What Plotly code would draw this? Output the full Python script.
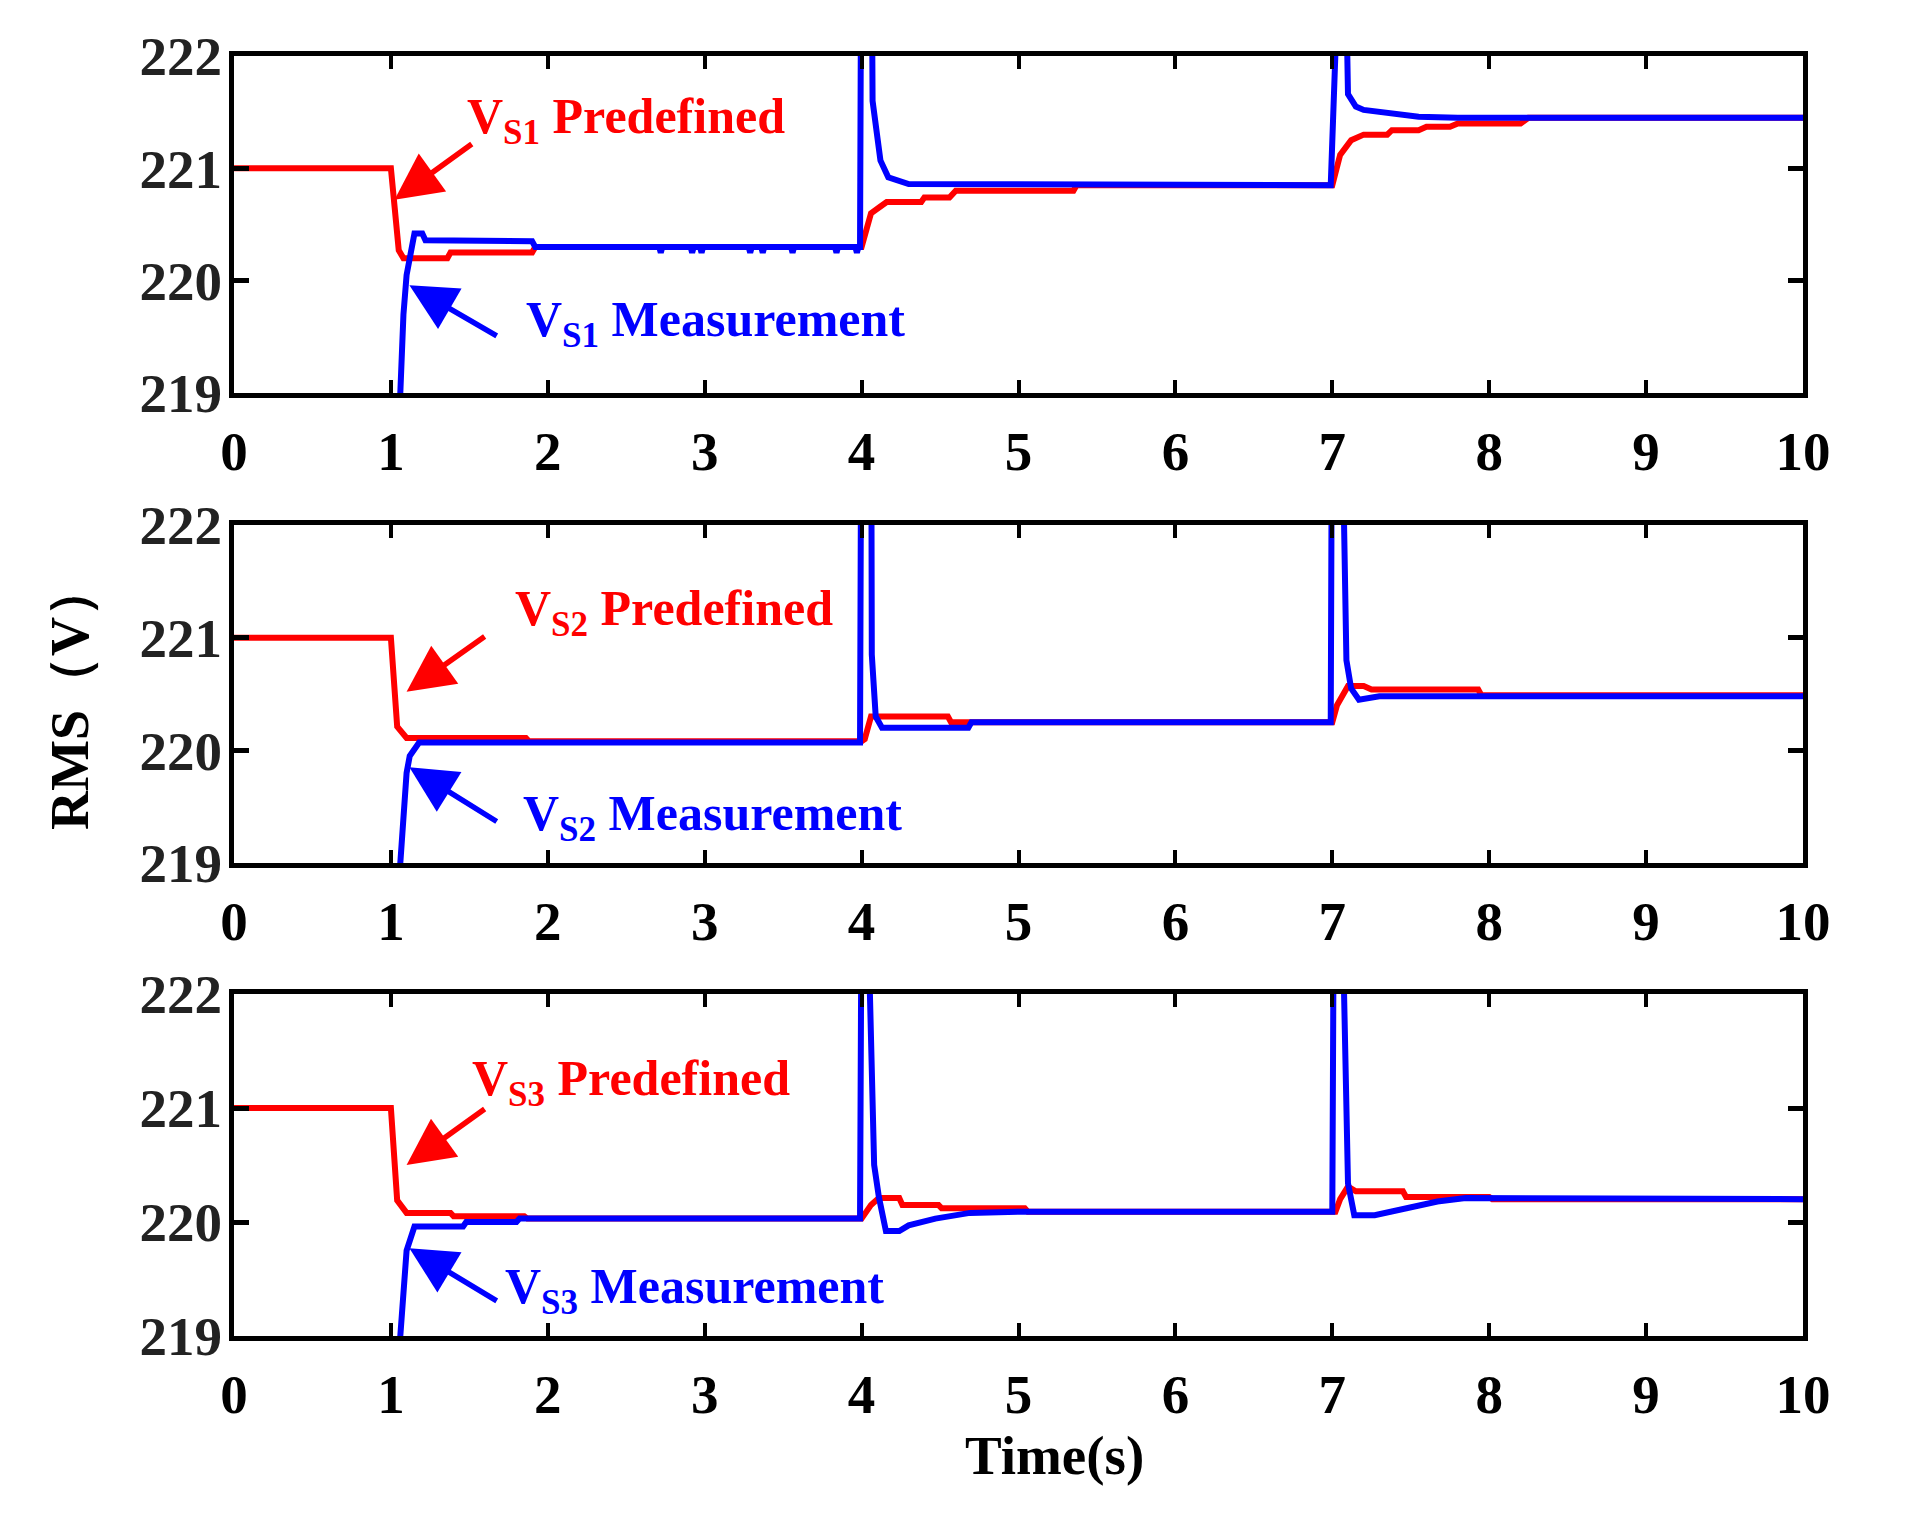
import plotly.graph_objects as go

# ---------------- data ----------------
x_ticks = [0, 1, 2, 3, 4, 5, 6, 7, 8, 9, 10]
y_ticks = [219, 220, 221, 222]

# Panel 1 (V_S1)
red1_t = [0, 1.0, 1.05, 1.08, 1.36, 1.38, 1.9, 1.92, 4.0, 4.02, 4.06, 4.12, 4.16, 4.38, 4.4, 4.56, 4.6,
          5.35, 5.37, 7.0, 7.02, 7.05, 7.12, 7.2, 7.35, 7.38, 7.55, 7.6, 7.75, 7.8, 8.2, 8.25, 10]
red1_v = [221, 221, 220.27, 220.2, 220.2, 220.25, 220.25, 220.3, 220.3, 220.4, 220.6, 220.66, 220.7, 220.7,
          220.74, 220.74, 220.8, 220.8, 220.85, 220.85, 220.95, 221.12, 221.25, 221.3, 221.3, 221.34, 221.34,
          221.37, 221.37, 221.4, 221.4, 221.45, 221.45]
blue1_t = [1.055, 1.06, 1.08, 1.1, 1.15, 1.2, 1.22, 1.9, 1.92,
           2.71, 2.72, 2.73, 2.91, 2.92, 2.93, 2.97, 2.98, 2.99, 3.28, 3.29, 3.30, 3.36, 3.37, 3.38,
           3.55, 3.56, 3.57, 3.83, 3.84, 3.85, 3.96, 3.97, 3.98,
           3.99, 4.0, 4.06, 4.07, 4.09, 4.12, 4.17, 4.3,
           6.99, 7.0, 7.07, 7.1, 7.15, 7.2, 7.4, 7.55, 7.8, 10]
blue1_v = [218.5, 219, 219.7, 220.05, 220.42, 220.42, 220.36, 220.35, 220.3,
           220.3, 220.25, 220.3, 220.3, 220.25, 220.3, 220.3, 220.25, 220.3, 220.3, 220.25, 220.3,
           220.3, 220.25, 220.3, 220.3, 220.25, 220.3, 220.3, 220.25, 220.3, 220.3, 220.25, 220.3,
           220.3, 224, 224, 221.6, 221.34,
           221.07, 220.92, 220.86, 220.85, 224, 224, 221.66, 221.55, 221.52, 221.49, 221.46, 221.45, 221.45]

# Panel 2 (V_S2)
red2_t = [0, 1.0, 1.04, 1.07, 1.1, 1.86, 1.88, 4.0, 4.02, 4.06, 4.55, 4.57, 7.0, 7.03, 7.1, 7.2, 7.25,
          7.93, 7.95, 10]
red2_v = [221, 221, 220.21, 220.15, 220.11, 220.11, 220.08, 220.08, 220.1, 220.3, 220.3, 220.25, 220.25,
          220.4, 220.57, 220.57, 220.54, 220.54, 220.49, 220.49]
blue2_t = [1.055, 1.06, 1.1, 1.12, 1.18, 3.99, 4.0, 4.06, 4.065, 4.09, 4.13, 4.68, 4.7, 6.99, 7.0, 7.05,
           7.09, 7.12, 7.17, 7.3, 10]
blue2_v = [218.5, 219, 219.8, 219.95, 220.07, 220.07, 224, 224, 220.85, 220.3, 220.2, 220.2, 220.25, 220.25,
           224, 224, 220.8, 220.55, 220.45, 220.48, 220.48]

# Panel 3 (V_S3)
red3_t = [0, 1.0, 1.04, 1.08, 1.1, 1.38, 1.4, 1.85, 1.87, 4.0, 4.06, 4.11, 4.24, 4.26, 4.49, 4.51, 5.04,
          5.06, 7.02, 7.05, 7.1, 7.15, 7.45, 7.47, 8.0, 8.02, 10]
red3_v = [221, 221, 220.19, 220.12, 220.08, 220.08, 220.05, 220.05, 220.03, 220.03, 220.15, 220.21, 220.21,
          220.15, 220.15, 220.12, 220.12, 220.09, 220.09, 220.2, 220.31, 220.27, 220.27, 220.22, 220.22,
          220.2, 220.2]
blue3_t = [1.055, 1.06, 1.1, 1.15, 1.46, 1.48, 1.8, 1.82, 3.99, 4.0, 4.035, 4.07, 4.08, 4.11, 4.155, 4.24,
           4.3, 4.47, 4.69, 5.0, 7.0, 7.01, 7.06, 7.1, 7.14, 7.27, 7.45, 7.67, 7.85, 10]
blue3_v = [218.5, 219, 219.75, 219.96, 219.96, 220.0, 220.0, 220.03, 220.03, 223, 223, 220.6, 220.5, 220.22,
           219.92, 219.92, 219.97, 220.03, 220.08, 220.09, 220.09, 223, 223, 220.34, 220.06, 220.06, 220.12,
           220.18, 220.21, 220.2]

panels = [(red1_t, red1_v, blue1_t, blue1_v), (red2_t, red2_v, blue2_t, blue2_v),
          (red3_t, red3_v, blue3_t, blue3_v)]

# label / arrow placements (data coordinates), per panel
pred_text = [(1.474, 221.43), (1.78, 221.23), (1.507, 221.23)]
meas_text = [(1.85, 219.62), (1.83, 219.41), (1.715, 219.4)]
pred_arrow = [((1.525, 221.226), (1.023, 220.72)), ((1.607, 221.02), (1.10, 220.52)),
              ((1.607, 221.0), (1.10, 220.5))]
meas_arrow = [((1.684, 219.5), (1.118, 219.96)), ((1.684, 219.36), (1.118, 219.85)),
              ((1.684, 219.3), (1.118, 219.77))]
names = ["S1", "S2", "S3"]

RED = "#ff0000"
BLUE = "#0000ff"
FONT = "Liberation Serif"

# page offset (body margin) compensation
OFF = 8
W, H = 1926 - 2 * OFF, 1528 - 2 * OFF
L, T = 234 - OFF, 56 - OFF
R = W - (1803 - OFF)
B = H - (1336 - OFF)
pw, ph = W - L - R, H - T - B


def ydom(top_px, bot_px):
    return [(H - (bot_px - OFF) - B) / ph, (H - (top_px - OFF) - B) / ph]


domains = [ydom(56, 393), ydom(525, 863), ydom(994, 1336)]

fig = go.Figure()
annotations = []
for i, (rt, rv, bt, bv) in enumerate(panels):
    xa = "x" if i == 0 else f"x{i+1}"
    ya = "y" if i == 0 else f"y{i+1}"
    fig.add_trace(go.Scatter(x=rt, y=rv, mode="lines", line=dict(color=RED, width=6),
                             xaxis=xa, yaxis=ya, showlegend=False))
    fig.add_trace(go.Scatter(x=bt, y=bv, mode="lines", line=dict(color=BLUE, width=6),
                             xaxis=xa, yaxis=ya, showlegend=False))
    axkey = "xaxis" if i == 0 else f"xaxis{i+1}"
    aykey = "yaxis" if i == 0 else f"yaxis{i+1}"
    fig.update_layout(**{
        axkey: dict(domain=[0, 1], anchor=ya, range=[0, 10], tickvals=x_ticks,
                    showline=True, mirror="ticks", linecolor="black", linewidth=5,
                    ticks="inside", ticklen=13, tickwidth=4, tickcolor="black",
                    showgrid=False, zeroline=False, ticklabelstandoff=6,
                    tickfont=dict(family=FONT, size=55, color="black", weight="bold")),
        aykey: dict(domain=domains[i], anchor=xa, range=[219, 222], tickvals=y_ticks,
                    showline=True, mirror="ticks", linecolor="black", linewidth=5,
                    ticks="inside", ticklen=15, tickwidth=5, tickcolor="black",
                    showgrid=False, zeroline=False, ticklabelstandoff=-4,
                    tickfont=dict(family=FONT, size=55, color="#222222", weight="bold")),
    })
    annotations.append(dict(x=pred_text[i][0], y=pred_text[i][1], xref=xa, yref=ya, xanchor="left",
                            yanchor="middle", showarrow=False,
                            text=f"V<sub>{names[i]}</sub> Predefined",
                            font=dict(family=FONT, size=50, color=RED, weight="bold")))
    annotations.append(dict(x=meas_text[i][0], y=meas_text[i][1], xref=xa, yref=ya, xanchor="left",
                            yanchor="middle", showarrow=False,
                            text=f"V<sub>{names[i]}</sub> Measurement",
                            font=dict(family=FONT, size=50, color=BLUE, weight="bold")))
    (tx, ty), (hx, hy) = pred_arrow[i]
    annotations.append(dict(x=hx, y=hy, ax=tx, ay=ty, xref=xa, yref=ya, axref=xa, ayref=ya, text="",
                            showarrow=True, arrowhead=2, arrowsize=1.7, arrowwidth=5.5, arrowcolor=RED))
    (tx, ty), (hx, hy) = meas_arrow[i]
    annotations.append(dict(x=hx, y=hy, ax=tx, ay=ty, xref=xa, yref=ya, axref=xa, ayref=ya, text="",
                            showarrow=True, arrowhead=2, arrowsize=1.7, arrowwidth=5.5, arrowcolor=BLUE))


def paper_xy(px, py):
    return ((px - OFF) - L) / pw, (H - (py - OFF) - B) / ph


rx, ry = paper_xy(70, 697)
annotations.append(dict(x=rx, y=ry, xref="paper", yref="paper", xanchor="center", yanchor="middle",
                        text="RMS（V）", showarrow=False, textangle=-90,
                        font=dict(family=FONT, size=54, color="black", weight="bold")))
tx_, ty_ = paper_xy(1054, 1455)
annotations.append(dict(x=tx_, y=ty_, xref="paper", yref="paper", xanchor="center", yanchor="middle",
                        text="Time(s)", showarrow=False,
                        font=dict(family=FONT, size=55, color="black", weight="bold")))

fig.update_layout(width=W, height=H, margin=dict(l=L, r=R, t=T, b=B),
                  plot_bgcolor="white", paper_bgcolor="white", annotations=annotations)

fig.write_html("out.html")
